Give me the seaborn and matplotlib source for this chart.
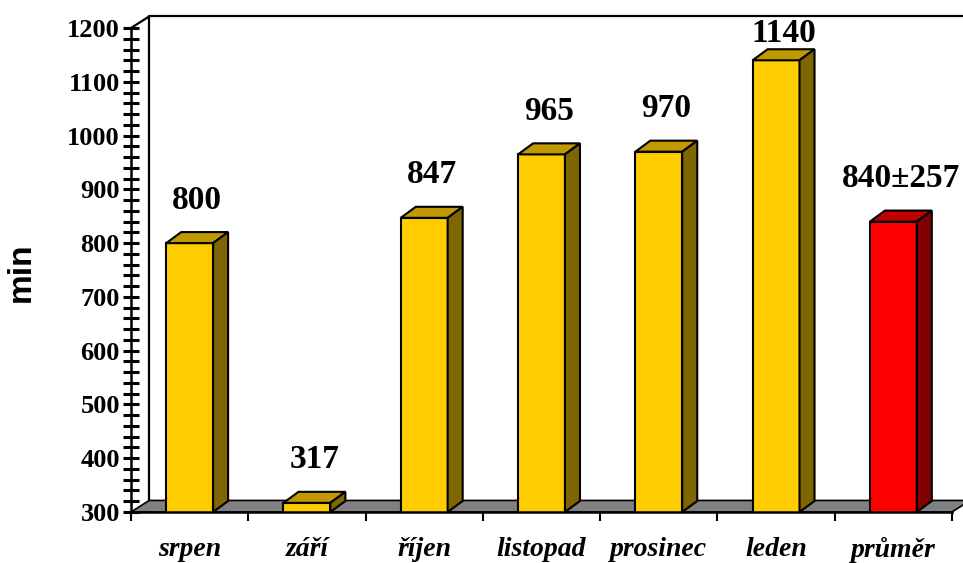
import matplotlib
matplotlib.use("Agg")
import matplotlib.pyplot as plt
import seaborn as sns
import pandas as pd
from matplotlib.ticker import MultipleLocator, FixedLocator

# Monthly values (minutes) and the mean ± SD
months = ["srpen", "září", "říjen", "listopad", "prosinec", "leden", "průměr"]
values = [800, 317, 847, 965, 970, 1140, 840]
mean_sd = 257
value_labels = ["800", "317", "847", "965", "970", "1140", f"840±{mean_sd}"]

front_colors = ["#FFCC00"] * 6 + ["#FF0000"]
top_colors = ["#C09900"] * 6 + ["#C00000"]
side_colors = ["#806600"] * 6 + ["#800000"]

y_min, y_max = 300, 1200

df = pd.DataFrame({"month": months, "value": values})

sns.set_style("white")
plt.rcParams["font.family"] = ["Liberation Serif", "DejaVu Serif"]
plt.rcParams.update({
    "text.color": "black",
    "axes.labelcolor": "black",
    "xtick.color": "black",
    "ytick.color": "black",
    "axes.edgecolor": "black",
})

fig = plt.figure(figsize=(9.63, 5.63), dpi=100)
ax = fig.add_axes([131 / 963, 51 / 563, 821 / 963, 484 / 563])

sns.barplot(data=df, x="month", y="value", hue="month", palette=front_colors,
            width=0.4, edgecolor="black", linewidth=1.5, legend=False,
            saturation=1, ax=ax, zorder=3)

ax.set_xlim(-0.5, len(months) - 0.5)
ax.set_ylim(y_min, y_max)
x0, x1 = ax.get_xlim()

# depth of the pseudo-3D box (data units)
floor_dx, floor_dy = 0.155, 21.5
bar_dx, bar_dy = 0.128, 20.5

# floor slab
ax.fill([x0, x1, x1 + floor_dx, x0 + floor_dx],
        [y_min, y_min, y_min + floor_dy, y_min + floor_dy],
        facecolor="#808080", edgecolor="black", linewidth=1.2,
        clip_on=False, zorder=1)
# back wall outline
ax.plot([x0 + floor_dx, x0 + floor_dx, x1 + 1.0],
        [y_min + floor_dy, y_max + floor_dy, y_max + floor_dy],
        color="black", linewidth=1.6, clip_on=False, zorder=1)
ax.plot([x0, x0 + floor_dx], [y_max, y_max + floor_dy],
        color="black", linewidth=1.6, clip_on=False, zorder=1)

# top and side faces for each bar, plus the value labels
for i, patch in enumerate(ax.patches[:len(values)]):
    bx = patch.get_x()
    bw = patch.get_width()
    top = patch.get_y() + patch.get_height()
    ax.fill([bx, bx + bw, bx + bw + bar_dx, bx + bar_dx],
            [top, top, top + bar_dy, top + bar_dy],
            facecolor=top_colors[i], edgecolor="black", linewidth=1.5,
            clip_on=False, zorder=3)
    ax.fill([bx + bw, bx + bw + bar_dx, bx + bw + bar_dx, bx + bw],
            [y_min, y_min + bar_dy, top + bar_dy, top],
            facecolor=side_colors[i], edgecolor="black", linewidth=1.5,
            clip_on=False, zorder=3)
    ax.text(bx + (bw + bar_dx) / 2, min(top + 80, 1190), value_labels[i],
            ha="center", va="center", fontsize=24, fontweight="bold",
            color="black", clip_on=False, zorder=4)

# axes styling
for side in ("top", "right"):
    ax.spines[side].set_visible(False)
ax.spines["left"].set_linewidth(1.8)
ax.spines["bottom"].set_linewidth(1.8)
ax.spines["left"].set_zorder(5)
ax.spines["bottom"].set_zorder(5)

ax.yaxis.set_major_locator(MultipleLocator(100))
ax.yaxis.set_minor_locator(MultipleLocator(20))
ax.tick_params(axis="y", which="both", direction="inout", length=12,
               width=2.2, color="black", left=True)
ax.tick_params(axis="y", which="major", labelsize=19, pad=2)
for lbl in ax.get_yticklabels():
    lbl.set_fontweight("bold")

ax.xaxis.set_minor_locator(FixedLocator([i - 0.5 for i in range(len(months) + 1)]))
ax.tick_params(axis="x", which="minor", direction="out", length=6.5,
               width=1.5, color="black", bottom=True)
ax.tick_params(axis="x", which="major", length=0, pad=18)
ax.set_xticks(range(len(months)))
ax.set_xticklabels(months, fontsize=20, fontweight="bold", fontstyle="italic")

ax.set_xlabel("")
ax.set_ylabel("min", fontsize=24, fontweight="bold",
              family=["Liberation Sans", "DejaVu Sans"])
ax.yaxis.set_label_coords(-0.1145, 0.496)
ax.grid(False)

fig.savefig("out.png", dpi=100)
